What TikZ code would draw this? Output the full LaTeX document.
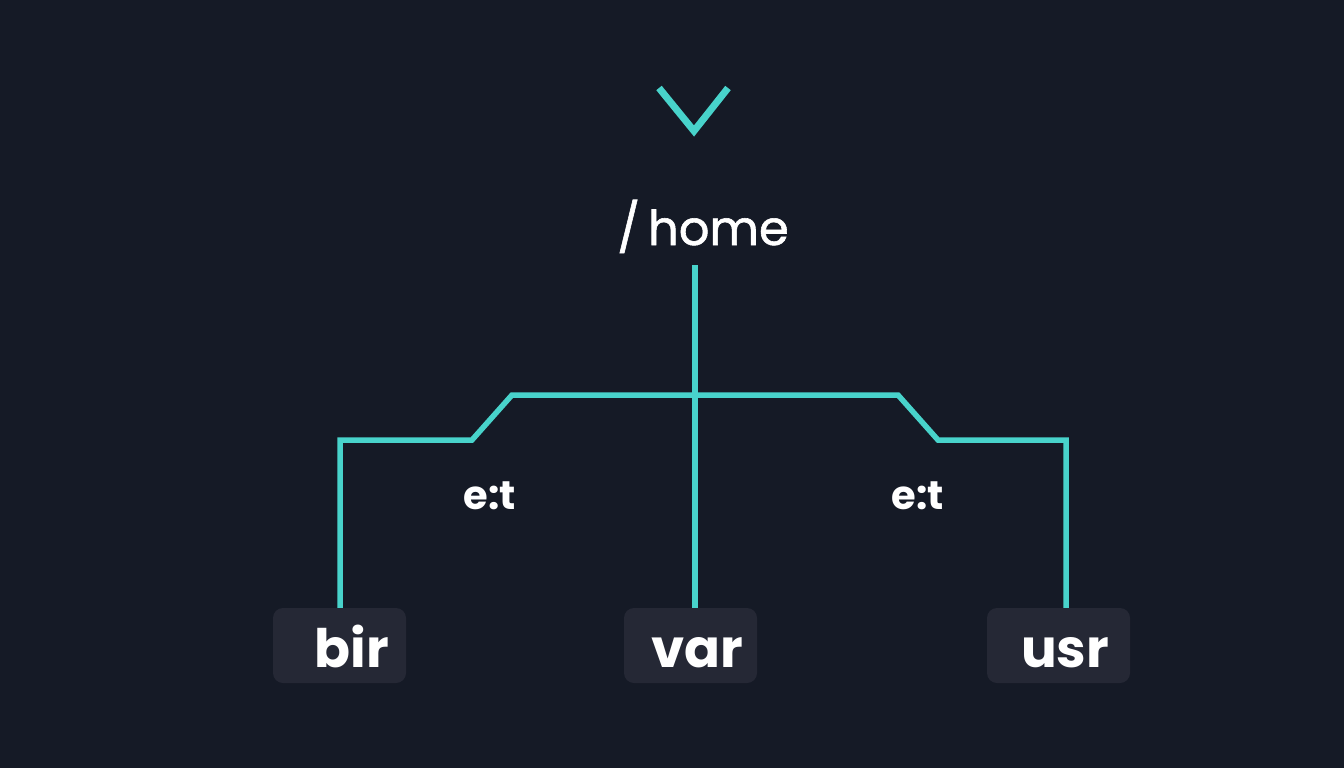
\documentclass[tikz,border=0pt]{standalone}
\usepackage{fontspec}
\setmainfont{Poppins}
\newfontfamily\medfont{Poppins}[FakeBold=1.2]
\begin{document}
\begin{tikzpicture}[x=1pt,y=-1pt,
  conn/.style={draw=linec,line width=5.5pt,line join=miter},
  dirbox/.style={fill=boxc,rounded corners=10pt,minimum width=133pt,minimum height=75pt,inner sep=0pt,text height=43pt,text depth=0pt,text=white,font=\fontsize{53}{53}\selectfont\bfseries},
  lbl/.style={text=white,font=\fontsize{40}{40}\selectfont\bfseries,inner sep=0pt,anchor=base}]
\definecolor{bgc}{HTML}{151A26}
\definecolor{boxc}{HTML}{252835}
\definecolor{linec}{HTML}{48D3CB}
\fill[bgc] (0,0) rectangle (1344,768);
\useasboundingbox (0,0) rectangle (1344,768);
% chevron
\coordinate (chl) at (659,88);
\coordinate (chb) at (694,131);
\coordinate (chr) at (728,88);
\draw[linec,line width=7pt,line join=miter] (chl) -- (chb) -- (chr);
% root
\node[text=white,font=\fontsize{48}{48}\medfont,inner sep=0pt,anchor=base] (home) at (703,245) {/\,home};
% boxes
\node[dirbox] (bir) at (339.5,645.5) {\hspace*{27pt}\kern-2pt bir};
\node[dirbox] (var) at (690.5,645.5) {\hspace*{14pt}var};
\node[dirbox,minimum width=143pt] (usr) at (1058.5,645.5) {\hspace*{13pt}usr};
% junctions
\coordinate (stemtop) at (695,265);
\coordinate (jl) at (512,395);
\coordinate (jr) at (898,395);
\coordinate (kl) at (472,440);
\coordinate (kr) at (938,440);
\coordinate (cl) at (340,440);
\coordinate (cr) at (1066,440);
\draw[conn] (stemtop) -- (stemtop |- var.north);
\draw[conn] (cl |- bir.north) -- (cl) -- (kl) -- (jl) -- (jr) -- (kr) -- (cr) -- (cr |- usr.north);
% labels
\node[lbl] (e1) at (490,509) {e:t};
\node[lbl] (e2) at (918,509) {e:t};
\end{tikzpicture}
\end{document}
